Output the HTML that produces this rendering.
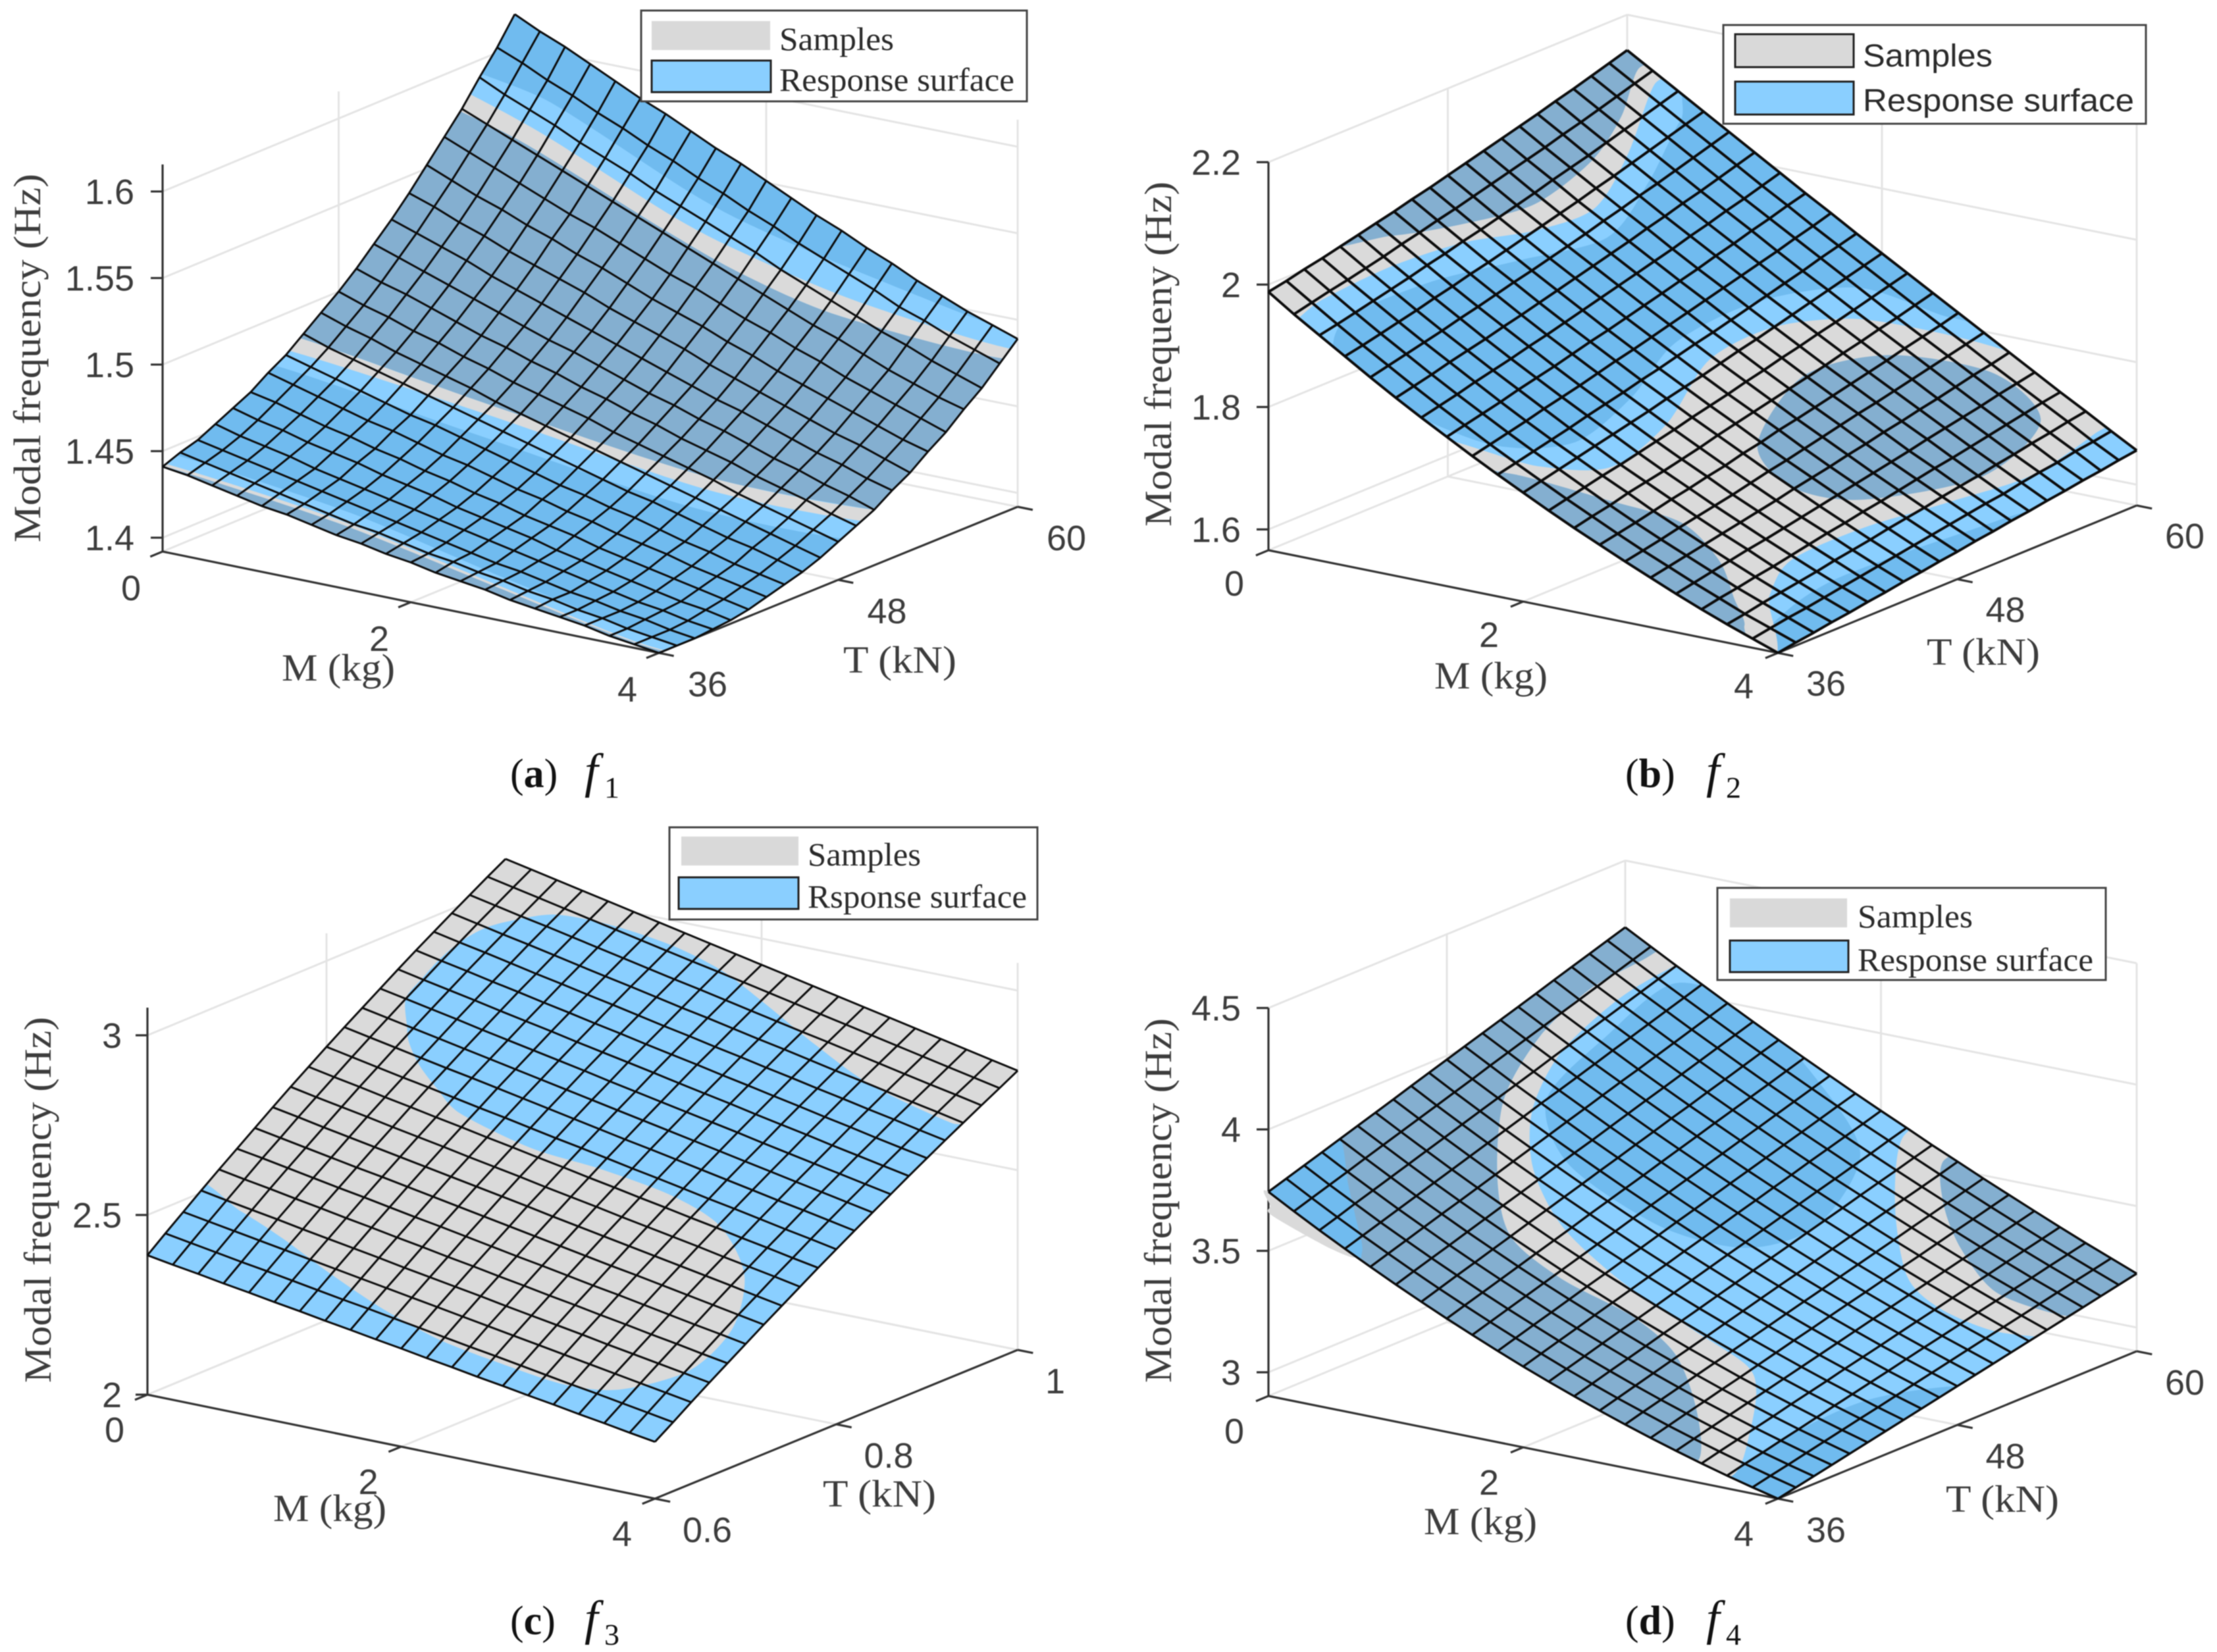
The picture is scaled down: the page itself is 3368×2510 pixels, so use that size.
<!DOCTYPE html>
<html lang="en">
<head>
<meta charset="utf-8">
<title>Modal frequency response surfaces</title>
<style>
html,body{margin:0;padding:0;background:#fff}
svg{display:block;filter:blur(.7px)}
.tick{font-family:"Liberation Sans",sans-serif;font-size:54px;fill:#3c3c3c}
.axis-title{font-family:"Liberation Serif",serif;font-size:58px;fill:#3c3c3c}
.legend-serif{font-family:"Liberation Serif",serif;font-size:50px;fill:#2a2a2a}
.legend-sans{font-family:"Liberation Sans",sans-serif;font-size:48px;fill:#2a2a2a}
.caption{font-family:"Liberation Serif",serif;font-size:62px;fill:#111}
.cap-f{font-size:74px;font-style:italic}
.cap-sub{font-size:46px}
</style>
</head>
<body>
<svg id="figure" width="3368" height="2510" viewBox="0 0 3368 2510" xmlns="http://www.w3.org/2000/svg">
<rect width="3368" height="2510" fill="#fff"/>

<g>
<g id="plot-a"></g>
<text class="axis-title" transform="translate(43,544) rotate(-90)" y="18" text-anchor="middle" textLength="560" lengthAdjust="spacingAndGlyphs">Modal frequency (Hz)</text>
<text class="axis-title" x="514" y="1034" text-anchor="middle" textLength="172" lengthAdjust="spacingAndGlyphs">M (kg)</text>
<text class="axis-title" x="1367" y="1022" text-anchor="middle" textLength="172" lengthAdjust="spacingAndGlyphs">T (kN)</text>
<g>
<rect x="974" y="16" width="586" height="138" fill="#fff" stroke="#444" stroke-width="3"/>
<rect x="990" y="32" width="180" height="44" fill="#d9d9d9"/>
<rect x="990" y="92" width="181" height="48" fill="#8acfff" stroke="#222" stroke-width="3"/>
<text class="legend-serif" x="1184" y="76" textLength="174" lengthAdjust="spacingAndGlyphs">Samples</text>
<text class="legend-serif" x="1184" y="138" textLength="357" lengthAdjust="spacingAndGlyphs">Response surface</text>
</g>
<text class="caption" x="775" y="1196">(<tspan font-weight="bold">a</tspan>)<tspan x="888" class="cap-f">f</tspan><tspan x="918" dy="16" class="cap-sub">1</tspan></text>
</g>

<g>
<g id="plot-b"></g>
<text class="axis-title" transform="translate(1761,538) rotate(-90)" y="18" text-anchor="middle" textLength="524" lengthAdjust="spacingAndGlyphs">Modal frequeny (Hz)</text>
<text class="axis-title" x="2265" y="1046" text-anchor="middle" textLength="172" lengthAdjust="spacingAndGlyphs">M (kg)</text>
<text class="axis-title" x="3013" y="1010" text-anchor="middle" textLength="172" lengthAdjust="spacingAndGlyphs">T (kN)</text>
<g>
<rect x="2618" y="38" width="642" height="150" fill="#fff" stroke="#444" stroke-width="3"/>
<rect x="2636" y="52" width="180" height="50" fill="#d9d9d9" stroke="#222" stroke-width="3"/>
<rect x="2636" y="124" width="180" height="50" fill="#8acfff" stroke="#222" stroke-width="3"/>
<text class="legend-sans" x="2830" y="101" textLength="197" lengthAdjust="spacingAndGlyphs">Samples</text>
<text class="legend-sans" x="2830" y="169" textLength="412" lengthAdjust="spacingAndGlyphs">Response surface</text>
</g>
<text class="caption" x="2469" y="1196">(<tspan font-weight="bold">b</tspan>)<tspan x="2592" class="cap-f">f</tspan><tspan x="2622" dy="16" class="cap-sub">2</tspan></text>
</g>

<g>
<g id="plot-c"></g>
<text class="axis-title" transform="translate(59,1823) rotate(-90)" y="18" text-anchor="middle" textLength="556" lengthAdjust="spacingAndGlyphs">Modal frequency (Hz)</text>
<text class="axis-title" x="501" y="2311" text-anchor="middle" textLength="172" lengthAdjust="spacingAndGlyphs">M (kg)</text>
<text class="axis-title" x="1336" y="2289" text-anchor="middle" textLength="172" lengthAdjust="spacingAndGlyphs">T (kN)</text>
<g>
<rect x="1017" y="1257" width="559" height="140" fill="#fff" stroke="#444" stroke-width="3"/>
<rect x="1035" y="1271" width="178" height="44" fill="#d9d9d9"/>
<rect x="1031" y="1333" width="182" height="48" fill="#8acfff" stroke="#222" stroke-width="3"/>
<text class="legend-serif" x="1227" y="1315" textLength="172" lengthAdjust="spacingAndGlyphs">Samples</text>
<text class="legend-serif" x="1227" y="1379" textLength="333" lengthAdjust="spacingAndGlyphs">Rsponse surface</text>
</g>
<text class="caption" x="775" y="2483">(<tspan font-weight="bold">c</tspan>)<tspan x="888" class="cap-f">f</tspan><tspan x="918" dy="16" class="cap-sub">3</tspan></text>
</g>

<g>
<g id="plot-d"></g>
<text class="axis-title" transform="translate(1761,1824) rotate(-90)" y="18" text-anchor="middle" textLength="554" lengthAdjust="spacingAndGlyphs">Modal frequency (Hz)</text>
<text class="axis-title" x="2249" y="2331" text-anchor="middle" textLength="172" lengthAdjust="spacingAndGlyphs">M (kg)</text>
<text class="axis-title" x="3042" y="2297" text-anchor="middle" textLength="172" lengthAdjust="spacingAndGlyphs">T (kN)</text>
<g>
<rect x="2609" y="1349" width="590" height="140" fill="#fff" stroke="#444" stroke-width="3"/>
<rect x="2628" y="1365" width="178" height="44" fill="#d9d9d9"/>
<rect x="2628" y="1429" width="180" height="48" fill="#8acfff" stroke="#222" stroke-width="3"/>
<text class="legend-serif" x="2822" y="1409" textLength="175" lengthAdjust="spacingAndGlyphs">Samples</text>
<text class="legend-serif" x="2822" y="1475" textLength="358" lengthAdjust="spacingAndGlyphs">Response surface</text>
</g>
<text class="caption" x="2469" y="2483">(<tspan font-weight="bold">d</tspan>)<tspan x="2592" class="cap-f">f</tspan><tspan x="2622" dy="16" class="cap-sub">4</tspan></text>
</g>
</svg>

<script>
/* Axis ticks and labels */
const massTicks=[0,2,4];
const massTickLabels=['0','2','4'];
const tensionTicksKN=[36,48,60];
const tensionTickLabelsKN=['36','48','60'];
const tensionTicksF3=[0.6,0.8,1];
const tensionTickLabelsF3=['0.6','0.8','1'];
const freqTicksF1=[1.4,1.45,1.5,1.55,1.6];
const freqTickLabelsF1=['1.4','1.45','1.5','1.55','1.6'];
const freqTicksF2=[1.6,1.8,2,2.2];
const freqTickLabelsF2=['1.6','1.8','2','2.2'];
const freqTicksF3=[2,2.5,3];
const freqTickLabelsF3=['2','2.5','3'];
const freqTicksF4=[3,3.5,4,4.5];
const freqTickLabelsF4=['3','3.5','4','4.5'];

/* Response-surface frequency (Hz): one row per T step (T min to T max), one column per M step (0 to 4 kg) */
const frequencyF1=[
[1.441,1.439,1.436,1.433,1.430,1.428,1.425,1.422,1.420,1.417,1.415,1.412,1.410,1.408,1.405,1.403,1.401,1.399,1.396,1.394,1.392],
[1.445,1.442,1.439,1.436,1.433,1.430,1.427,1.424,1.422,1.419,1.416,1.414,1.411,1.409,1.406,1.404,1.401,1.399,1.396,1.394,1.392],
[1.448,1.445,1.442,1.439,1.436,1.433,1.430,1.427,1.424,1.421,1.418,1.415,1.412,1.410,1.407,1.404,1.402,1.399,1.397,1.394,1.392],
[1.453,1.449,1.446,1.443,1.439,1.436,1.433,1.430,1.427,1.424,1.421,1.418,1.415,1.412,1.409,1.406,1.403,1.400,1.398,1.395,1.393],
[1.458,1.454,1.451,1.447,1.444,1.441,1.437,1.434,1.431,1.427,1.424,1.421,1.418,1.414,1.411,1.408,1.405,1.402,1.399,1.397,1.394],
[1.463,1.460,1.456,1.452,1.449,1.445,1.442,1.438,1.435,1.431,1.428,1.424,1.421,1.418,1.414,1.411,1.408,1.405,1.402,1.399,1.396],
[1.470,1.466,1.462,1.458,1.454,1.451,1.447,1.443,1.440,1.436,1.432,1.429,1.425,1.422,1.418,1.415,1.412,1.408,1.405,1.402,1.399],
[1.476,1.472,1.468,1.464,1.460,1.456,1.453,1.449,1.445,1.441,1.437,1.433,1.430,1.426,1.423,1.419,1.415,1.412,1.408,1.405,1.402],
[1.484,1.479,1.475,1.471,1.467,1.463,1.459,1.455,1.451,1.447,1.443,1.439,1.435,1.431,1.428,1.424,1.420,1.416,1.413,1.409,1.405],
[1.492,1.487,1.483,1.478,1.474,1.470,1.466,1.461,1.457,1.453,1.449,1.445,1.441,1.437,1.433,1.429,1.425,1.421,1.417,1.413,1.409],
[1.500,1.495,1.491,1.486,1.482,1.477,1.473,1.468,1.464,1.460,1.456,1.451,1.447,1.443,1.439,1.435,1.430,1.426,1.422,1.418,1.414],
[1.509,1.504,1.500,1.495,1.490,1.485,1.481,1.476,1.472,1.467,1.463,1.458,1.454,1.449,1.445,1.441,1.436,1.432,1.428,1.423,1.419],
[1.519,1.514,1.509,1.504,1.499,1.494,1.489,1.484,1.480,1.475,1.470,1.465,1.461,1.456,1.452,1.447,1.442,1.438,1.433,1.429,1.424],
[1.529,1.524,1.519,1.514,1.508,1.503,1.498,1.493,1.488,1.483,1.478,1.473,1.468,1.463,1.459,1.454,1.449,1.444,1.440,1.435,1.431],
[1.540,1.535,1.529,1.524,1.518,1.513,1.508,1.503,1.497,1.492,1.487,1.482,1.476,1.471,1.466,1.461,1.456,1.451,1.447,1.442,1.437],
[1.552,1.546,1.540,1.535,1.529,1.524,1.518,1.513,1.507,1.501,1.496,1.491,1.485,1.480,1.474,1.469,1.464,1.459,1.454,1.449,1.445],
[1.564,1.558,1.552,1.546,1.540,1.534,1.529,1.523,1.517,1.511,1.506,1.500,1.494,1.489,1.483,1.478,1.472,1.467,1.462,1.457,1.452],
[1.576,1.570,1.564,1.558,1.552,1.546,1.540,1.534,1.528,1.522,1.516,1.510,1.504,1.498,1.492,1.487,1.481,1.475,1.470,1.465,1.461],
[1.590,1.583,1.577,1.571,1.564,1.558,1.552,1.545,1.539,1.533,1.527,1.521,1.514,1.508,1.502,1.496,1.490,1.485,1.479,1.474,1.469],
[1.603,1.597,1.590,1.584,1.577,1.571,1.564,1.558,1.551,1.545,1.538,1.532,1.525,1.519,1.513,1.507,1.500,1.495,1.489,1.484,1.479],
[1.618,1.611,1.605,1.598,1.591,1.584,1.578,1.571,1.564,1.558,1.551,1.544,1.537,1.531,1.524,1.518,1.511,1.505,1.499,1.494,1.489]
];
const frequencyF2=[
[1.988,1.960,1.934,1.908,1.882,1.857,1.833,1.810,1.787,1.765,1.744,1.723,1.703,1.684,1.665,1.647,1.629,1.612,1.596,1.581,1.566],
[1.994,1.967,1.940,1.914,1.889,1.864,1.840,1.817,1.794,1.772,1.751,1.730,1.710,1.690,1.671,1.653,1.635,1.618,1.601,1.586,1.571],
[2.001,1.974,1.947,1.921,1.896,1.871,1.847,1.824,1.801,1.779,1.758,1.737,1.716,1.696,1.677,1.659,1.641,1.623,1.607,1.591,1.575],
[2.007,1.980,1.954,1.928,1.903,1.879,1.855,1.831,1.808,1.786,1.765,1.744,1.724,1.703,1.684,1.665,1.647,1.629,1.612,1.595,1.580],
[2.014,1.987,1.961,1.935,1.910,1.886,1.862,1.839,1.816,1.793,1.772,1.750,1.730,1.710,1.690,1.671,1.653,1.634,1.617,1.600,1.584],
[2.021,1.994,1.968,1.943,1.918,1.893,1.869,1.846,1.823,1.801,1.779,1.757,1.736,1.716,1.696,1.677,1.658,1.640,1.622,1.605,1.589],
[2.028,2.002,1.976,1.950,1.925,1.901,1.877,1.853,1.830,1.808,1.786,1.764,1.743,1.723,1.702,1.683,1.664,1.646,1.628,1.610,1.593],
[2.035,2.009,1.983,1.958,1.933,1.908,1.884,1.861,1.838,1.815,1.793,1.771,1.750,1.729,1.709,1.689,1.670,1.652,1.633,1.615,1.598],
[2.043,2.017,1.991,1.965,1.941,1.916,1.892,1.869,1.846,1.823,1.801,1.779,1.758,1.737,1.716,1.696,1.676,1.657,1.638,1.620,1.602],
[2.050,2.024,1.998,1.973,1.948,1.924,1.900,1.876,1.853,1.830,1.808,1.786,1.765,1.743,1.722,1.702,1.682,1.663,1.644,1.625,1.607],
[2.058,2.032,2.006,1.981,1.956,1.932,1.908,1.884,1.861,1.838,1.815,1.793,1.772,1.751,1.729,1.708,1.688,1.668,1.649,1.630,1.611],
[2.066,2.040,2.014,1.989,1.964,1.940,1.916,1.892,1.869,1.846,1.823,1.801,1.779,1.757,1.736,1.715,1.694,1.674,1.654,1.635,1.616],
[2.074,2.048,2.022,1.997,1.972,1.948,1.924,1.900,1.877,1.853,1.831,1.808,1.786,1.764,1.743,1.721,1.700,1.680,1.660,1.640,1.620],
[2.082,2.056,2.031,2.005,1.981,1.956,1.932,1.908,1.885,1.861,1.838,1.816,1.793,1.771,1.750,1.728,1.706,1.686,1.665,1.645,1.625],
[2.090,2.064,2.039,2.014,1.989,1.965,1.940,1.916,1.893,1.869,1.846,1.823,1.800,1.778,1.756,1.734,1.713,1.691,1.670,1.649,1.629],
[2.098,2.073,2.047,2.022,1.998,1.973,1.949,1.925,1.901,1.877,1.854,1.831,1.808,1.785,1.763,1.741,1.719,1.697,1.676,1.655,1.634],
[2.107,2.081,2.056,2.031,2.006,1.982,1.957,1.933,1.909,1.885,1.862,1.838,1.815,1.792,1.770,1.747,1.725,1.703,1.681,1.660,1.638],
[2.115,2.090,2.065,2.040,2.015,1.990,1.966,1.942,1.917,1.893,1.870,1.846,1.823,1.800,1.777,1.754,1.731,1.709,1.687,1.664,1.643],
[2.124,2.099,2.074,2.049,2.024,1.999,1.974,1.950,1.926,1.902,1.878,1.854,1.830,1.807,1.784,1.761,1.738,1.715,1.692,1.670,1.647],
[2.133,2.108,2.083,2.058,2.033,2.008,1.983,1.959,1.934,1.910,1.886,1.862,1.838,1.814,1.791,1.767,1.744,1.721,1.698,1.674,1.652],
[2.142,2.117,2.092,2.067,2.042,2.017,1.992,1.967,1.943,1.918,1.894,1.870,1.846,1.822,1.798,1.774,1.750,1.726,1.703,1.679,1.656]
];
const frequencyF3=[
[2.388,2.376,2.365,2.353,2.342,2.330,2.319,2.307,2.296,2.284,2.273,2.261,2.250,2.238,2.227,2.215,2.204,2.192,2.181,2.169,2.158],
[2.428,2.416,2.404,2.392,2.381,2.369,2.357,2.345,2.334,2.322,2.310,2.298,2.286,2.275,2.263,2.251,2.239,2.228,2.216,2.204,2.192],
[2.467,2.455,2.443,2.431,2.419,2.407,2.395,2.383,2.371,2.359,2.347,2.335,2.323,2.311,2.299,2.287,2.275,2.263,2.251,2.239,2.227],
[2.506,2.493,2.481,2.469,2.456,2.444,2.432,2.420,2.407,2.395,2.383,2.371,2.358,2.346,2.334,2.322,2.309,2.297,2.285,2.273,2.261],
[2.544,2.531,2.519,2.506,2.494,2.481,2.469,2.456,2.444,2.431,2.419,2.406,2.394,2.381,2.369,2.356,2.344,2.331,2.319,2.306,2.294],
[2.581,2.569,2.556,2.543,2.530,2.518,2.505,2.492,2.480,2.467,2.454,2.441,2.429,2.416,2.403,2.391,2.378,2.365,2.352,2.340,2.327],
[2.618,2.605,2.592,2.579,2.566,2.554,2.541,2.528,2.515,2.502,2.489,2.476,2.463,2.450,2.437,2.425,2.412,2.399,2.386,2.373,2.360],
[2.655,2.642,2.628,2.615,2.602,2.589,2.576,2.563,2.550,2.537,2.524,2.510,2.497,2.484,2.471,2.458,2.445,2.432,2.419,2.405,2.392],
[2.691,2.677,2.664,2.651,2.637,2.624,2.611,2.597,2.584,2.571,2.557,2.544,2.531,2.517,2.504,2.491,2.478,2.464,2.451,2.438,2.424],
[2.726,2.712,2.699,2.685,2.672,2.658,2.645,2.631,2.618,2.604,2.591,2.577,2.564,2.550,2.537,2.523,2.510,2.496,2.483,2.469,2.456],
[2.761,2.747,2.733,2.719,2.706,2.692,2.678,2.665,2.651,2.637,2.624,2.610,2.596,2.583,2.569,2.555,2.542,2.528,2.514,2.501,2.487],
[2.795,2.781,2.767,2.753,2.739,2.726,2.712,2.698,2.684,2.670,2.656,2.642,2.629,2.615,2.601,2.587,2.573,2.559,2.546,2.532,2.518],
[2.828,2.814,2.800,2.786,2.772,2.758,2.744,2.730,2.716,2.702,2.688,2.674,2.660,2.646,2.632,2.618,2.604,2.590,2.576,2.562,2.548],
[2.861,2.847,2.833,2.819,2.804,2.790,2.776,2.762,2.748,2.733,2.719,2.705,2.691,2.677,2.663,2.648,2.634,2.620,2.606,2.592,2.578],
[2.894,2.879,2.865,2.851,2.836,2.822,2.808,2.793,2.779,2.765,2.751,2.736,2.722,2.708,2.693,2.679,2.665,2.650,2.636,2.622,2.608],
[2.926,2.911,2.897,2.882,2.868,2.853,2.839,2.824,2.810,2.795,2.781,2.767,2.752,2.738,2.723,2.709,2.694,2.680,2.665,2.651,2.637],
[2.957,2.942,2.928,2.913,2.898,2.884,2.869,2.855,2.840,2.825,2.811,2.796,2.782,2.767,2.753,2.738,2.724,2.709,2.695,2.680,2.666],
[2.988,2.973,2.958,2.944,2.929,2.914,2.899,2.885,2.870,2.855,2.841,2.826,2.811,2.797,2.782,2.767,2.753,2.738,2.723,2.709,2.694],
[3.018,3.003,2.988,2.974,2.959,2.944,2.929,2.914,2.899,2.885,2.870,2.855,2.840,2.825,2.811,2.796,2.781,2.766,2.751,2.737,2.722],
[3.048,3.033,3.018,3.003,2.988,2.973,2.958,2.943,2.928,2.914,2.899,2.884,2.869,2.854,2.839,2.824,2.809,2.794,2.779,2.764,2.749],
[3.077,3.062,3.047,3.032,3.017,3.002,2.987,2.972,2.957,2.942,2.927,2.912,2.897,2.882,2.867,2.852,2.837,2.822,2.807,2.792,2.777]
];
const frequencyF4=[
[3.743,3.684,3.627,3.572,3.519,3.467,3.417,3.369,3.323,3.278,3.235,3.194,3.155,3.117,3.081,3.047,3.015,2.984,2.955,2.928,2.902],
[3.767,3.708,3.651,3.596,3.543,3.491,3.441,3.393,3.346,3.301,3.258,3.216,3.176,3.138,3.102,3.067,3.034,3.003,2.973,2.945,2.918],
[3.791,3.732,3.676,3.620,3.567,3.515,3.465,3.416,3.369,3.324,3.280,3.238,3.198,3.159,3.122,3.087,3.053,3.021,2.990,2.961,2.934],
[3.815,3.756,3.700,3.644,3.591,3.538,3.488,3.439,3.392,3.346,3.302,3.260,3.219,3.180,3.142,3.106,3.072,3.039,3.008,2.978,2.950],
[3.839,3.781,3.724,3.668,3.615,3.562,3.512,3.462,3.415,3.369,3.325,3.282,3.240,3.201,3.163,3.126,3.091,3.057,3.025,2.995,2.966],
[3.863,3.805,3.748,3.692,3.638,3.586,3.535,3.486,3.438,3.392,3.347,3.303,3.262,3.221,3.183,3.145,3.110,3.076,3.043,3.012,2.982],
[3.887,3.829,3.772,3.716,3.662,3.610,3.559,3.509,3.461,3.414,3.369,3.325,3.283,3.242,3.203,3.165,3.129,3.094,3.061,3.029,2.998],
[3.911,3.853,3.796,3.740,3.686,3.633,3.582,3.532,3.484,3.437,3.391,3.347,3.304,3.263,3.223,3.185,3.148,3.112,3.078,3.045,3.014],
[3.936,3.877,3.820,3.764,3.710,3.657,3.606,3.556,3.507,3.459,3.413,3.369,3.326,3.284,3.243,3.205,3.167,3.131,3.096,3.062,3.030],
[3.960,3.901,3.844,3.788,3.734,3.681,3.629,3.579,3.530,3.482,3.436,3.391,3.347,3.305,3.264,3.224,3.186,3.149,3.113,3.079,3.046],
[3.984,3.925,3.868,3.812,3.758,3.705,3.653,3.602,3.553,3.505,3.458,3.413,3.369,3.326,3.284,3.244,3.205,3.167,3.131,3.096,3.062],
[4.008,3.950,3.892,3.837,3.782,3.728,3.676,3.625,3.576,3.527,3.480,3.434,3.390,3.346,3.304,3.264,3.224,3.186,3.149,3.113,3.078],
[4.032,3.974,3.916,3.860,3.806,3.752,3.700,3.649,3.599,3.550,3.503,3.456,3.411,3.367,3.325,3.283,3.243,3.204,3.166,3.130,3.094],
[4.056,3.998,3.941,3.884,3.830,3.776,3.723,3.672,3.622,3.573,3.525,3.478,3.433,3.388,3.345,3.303,3.262,3.222,3.184,3.147,3.110],
[4.080,4.022,3.965,3.908,3.854,3.800,3.747,3.695,3.645,3.595,3.547,3.500,3.454,3.409,3.365,3.323,3.281,3.241,3.202,3.163,3.126],
[4.104,4.046,3.989,3.933,3.877,3.823,3.770,3.719,3.668,3.618,3.569,3.522,3.475,3.430,3.385,3.342,3.300,3.259,3.219,3.180,3.142],
[4.129,4.070,4.013,3.957,3.901,3.847,3.794,3.742,3.691,3.641,3.592,3.543,3.497,3.451,3.406,3.362,3.319,3.277,3.237,3.197,3.158],
[4.153,4.094,4.037,3.981,3.925,3.871,3.817,3.765,3.714,3.663,3.614,3.565,3.518,3.472,3.426,3.382,3.338,3.296,3.254,3.214,3.174],
[4.177,4.119,4.061,4.005,3.949,3.895,3.841,3.788,3.737,3.686,3.636,3.587,3.539,3.492,3.446,3.401,3.357,3.314,3.272,3.231,3.190],
[4.201,4.143,4.085,4.029,3.973,3.918,3.865,3.812,3.760,3.709,3.658,3.610,3.561,3.513,3.467,3.421,3.376,3.332,3.289,3.247,3.206],
[4.225,4.167,4.109,4.053,3.997,3.942,3.888,3.835,3.783,3.731,3.681,3.632,3.582,3.535,3.487,3.441,3.395,3.350,3.306,3.264,3.222]
];

/* Outlines of the visible sample/response overlap regions, as [M step, T step] on the 20-by-20 sampling grid */
const f1UpperTensionZone=[[-2,18.6],[2.5,18.5],[8,18.5],[10.8,18.7],[14.7,19.3],[20,20.4],[23,21],[23,23],[-2,23]];
const f1MiddleOverlap=[[-2,17.3],[2.4,17.1],[8,17.1],[11,17.2],[14.5,17.7],[20,19.2],[23,20],[23,12.5],[20,12],[14.7,10],[7.1,8.8],[0,7.8],[-2,7.5]];
const f1UpperSampleBand=[[-2,17.8],[2.5,17.6],[8,17.6],[10.8,17.8],[14.7,18.4],[20,19.6],[23,20.3],[23,20],[20,19.2],[14.5,17.7],[11,17.2],[8,17.1],[2.4,17.1],[-2,17.3]];
const f1MiddleSampleBand=[[-2,7.6],[0,7.8],[7.1,8.8],[14.7,10],[20,12],[23,12.8],[23,12],[20,11.3],[15,9.5],[7.4,8.4],[0,7.2],[-2,6.9]];
const f1LowerTensionZone=[[-2,6],[0,6.4],[7.4,7.4],[15,8.5],[20,10.2],[23,11],[23,.8],[20,.9],[13,1.2],[6.5,1.5],[0,.8],[-2,.6]];
const f1EdgeOverlap=[[-2,-.2],[0,.05],[6.5,.7],[13,.45],[19,.15],[23,.05],[23,-2],[-2,-2]];
const f1EdgeSampleBand=[[-2,.1],[0,.2],[6.5,.9],[13,.6],[19,.25],[23,.15],[23,.05],[19,.15],[13,.45],[6.5,.7],[0,.05],[-2,-.05]];

const f2UpperResponseCore=[[2,1.5],[2.5,5.5],[3.5,9],[4.5,12.5],[3.8,15.8],[2.8,19],[2.5,21],[13,21],[13,19.6],[10.5,18],[9,14.5],[8.6,10.5],[9.3,7],[9.5,3.5],[8,1],[5,-.5],[3,-.5]];
const f2LowerResponseCore=[[21,-1],[19.5,-1],[18.7,2.5],[18.6,5],[19,8],[19.5,11],[20,14],[21,14]];
const f2SampleCrescent=[[-1,-1],[1.2,-1],[1.1,1.4],[1.4,4.9],[2.05,8],[3,10.6],[3.5,13.2],[2.7,16.2],[1.4,19.5],[1.3,21],[-1,21]];
const f2CornerOverlap=[[-1,4.4],[-1,21],[.7,21],[.7,19.6],[1.6,17.4],[2.2,14.9],[2.3,11.6],[1.55,8.7],[.6,6]];
const f2SampleBlob=[[7,-1],[9.5,1.5],[10.9,3.6],[10.7,7],[9.7,10.8],[10,14],[11.2,16.6],[12.8,18.3],[14.5,19.7],[16,20.6],[18.5,20.6],[18.8,19.3],[18.95,15.6],[18.3,12],[17.5,8.3],[17.15,4.8],[17.9,2.5],[19.7,-1]];
const f2CentreOverlap=[[13,8.8],[11.9,12.9],[12.9,16.3],[15.3,18.7],[17.5,18.2],[18.1,14.1],[16.6,9.5],[14.9,8]];
const f2EdgeOverlap=[[9,-1],[9.2,.4],[11.9,2.2],[13.9,3.3],[15.8,2.7],[17.3,1.4],[18.4,.4],[18.5,-1]];

const f3ResponseRegion=[[-1,3.3],[1.7,2.8],[3.6,2.4],[6,1.75],[8.4,1.2],[10.8,.85],[13,.8],[15.8,.9],[17.6,1.5],[19.1,3.2],[19.2,5.4],[18.1,7.6],[16.1,9.1],[13.9,9.55],[11.15,9.5],[8.55,9.25],[5.6,9.5],[4.25,10.1],[3.15,10.7],[2.25,11.4],[1.75,12],[1,13],[.92,14],[.9,15],[1,16],[1.3,16.9],[1.8,17.6],[2.9,18.6],[4.7,19.1],[7,19.3],[9.1,19.1],[11.2,18.5],[13.7,17.7],[16.4,17],[19.7,16.8],[22,16.6],[22,-2],[-1,-2]];

const f4SamplePeek=[[0,0],[.5,-.6],[.83,-1],[2.8,-.5],[3.3,0]];
const f4ResponseCore=[[3,11.3],[2.5,15.3],[2.44,19.3],[4.5,20.5],[7.84,19.5],[10.8,17.7],[12,13.6],[11.2,10.8],[8.8,9.4],[5.2,9.4]];
const f4LowerResponseCore=[[18.5,-1],[18,3],[18.5,7],[20,10],[22,10],[22,-1]];
const f4LeftOverlap=[[-2,22],[1.1,22],[1.2,19.3],[.93,16.7],[1.2,13.5],[2.16,10.1],[4.13,6.93],[6,5],[8.24,4.64],[10.8,4.93],[12.87,4.4],[15,2.53],[16.8,.15],[16.8,-2],[-2,-2]];
const f4CornerResponse=[[-1,4.2],[.03,4],[1.34,2.55],[2.31,1.56],[3.43,.35],[3.6,-1],[-1,-1]];
const f4SampleBandS=[[1.1,22],[1.2,19.3],[.93,16.7],[1.2,13.5],[2.16,10.1],[4.13,6.93],[6,5],[8.24,4.64],[10.8,4.93],[12.87,4.4],[15,2.53],[16.8,.15],[16.8,-2],[18.1,-2],[18.1,.33],[17.06,2.6],[15.8,4.76],[14.75,5.7],[12.37,5.92],[9.43,6.13],[6.73,6.8],[4.56,8.3],[3,10.5],[2.03,13.5],[1.75,17.1],[1.95,19.8],[2,22]];
const f4RightOverlap=[[12.6,22],[12.7,19.6],[14,17.8],[15.65,16.4],[17.7,15.4],[19.7,16],[22,16.5],[22,22]];
const f4RightSampleBand=[[11.2,22],[11.2,19.5],[13,16.5],[15.35,13.8],[17,13.2],[18.8,13.5],[20,14.4],[22,15],[22,16.5],[19.7,16],[17.7,15.4],[15.65,16.4],[14,17.8],[12.7,19.6],[12.6,22]];
</script>

<script>
const SVG_NS='http://www.w3.org/2000/svg';
const TONES={light:'#8acfff',mid:'#70bbef',dark:'#84afd0',grey:'#dadada'};

const panelDefs=[
{key:'a',tag:'f1',base:'light',freq:frequencyF1,meshWidth:3,
 mTicks:massTicks,mLabels:massTickLabels,tTicks:tensionTicksKN,tLabels:tensionTickLabelsKN,zTicks:freqTicksF1,zLabels:freqTickLabelsF1,
 geom:{F00:[247,838],F10:[1001,992],F11:[1546,770],F01:[782,616],zMin:1.392,zMax:1.6156,k:2630,mOff:[-48,55],tOff:[44,47],zOff:43},
 layers:[[f1UpperTensionZone,'mid'],[f1MiddleOverlap,'dark'],[f1LowerTensionZone,'mid'],[f1EdgeOverlap,'dark'],[f1UpperSampleBand,'grey'],[f1MiddleSampleBand,'grey'],[f1EdgeSampleBand,'grey']],peek:null},
{key:'b',tag:'f2',base:'light',freq:frequencyF2,meshWidth:4,
 mTicks:massTicks,mLabels:massTickLabels,tTicks:tensionTicksKN,tLabels:tensionTickLabelsKN,zTicks:freqTicksF2,zLabels:freqTickLabelsF2,
 geom:{F00:[1927,836],F10:[2701,992],F11:[3246,768],F01:[2472,612],zMin:1.566,zMax:2.2,k:930,mOff:[-52,50],tOff:[43,46],zOff:42},
 layers:[[f2UpperResponseCore,'mid'],[f2LowerResponseCore,'mid'],[f2SampleCrescent,'grey'],[f2CornerOverlap,'dark'],[f2SampleBlob,'grey'],[f2CentreOverlap,'dark'],[f2EdgeOverlap,'dark']],peek:null},
{key:'c',tag:'f3',base:'grey',freq:frequencyF3,meshWidth:3,
 mTicks:massTicks,mLabels:massTickLabels,tTicks:tensionTicksF3,tLabels:tensionTickLabelsF3,zTicks:freqTicksF3,zLabels:freqTickLabelsF3,
 geom:{F00:[224,2119],F10:[995,2277],F11:[1546,2051],F01:[768,1893],zMin:2,zMax:3.077,k:546,mOff:[-50,53],tOff:[42,47],zOff:39},
 layers:[[f3ResponseRegion,'light']],peek:null},
{key:'d',tag:'f4',base:'light',freq:frequencyF4,meshWidth:3.4,
 mTicks:massTicks,mLabels:massTickLabels,tTicks:tensionTicksKN,tLabels:tensionTickLabelsKN,zTicks:freqTicksF4,zLabels:freqTickLabelsF4,
 geom:{F00:[1927,2121],F10:[2701,2277],F11:[3246,2053],F01:[2469,1897],zMin:2.9024,zMax:4.5,k:369,mOff:[-52,53],tOff:[43,47],zOff:42},
 layers:[[f4ResponseCore,'mid'],[f4LowerResponseCore,'mid'],[f4LeftOverlap,'dark'],[f4CornerResponse,'mid'],[f4SampleBandS,'grey'],[f4RightOverlap,'dark'],[f4RightSampleBand,'grey']],peek:f4SamplePeek}
];

function mk(parent,tag,attrs){
  const el=document.createElementNS(SVG_NS,tag);
  for(const k in attrs)el.setAttribute(k,attrs[k]);
  parent.appendChild(el);
  return el;
}
function clamp(v,a,b){return Math.max(a,Math.min(b,v));}

function drawPanel(p){
  const g=p.geom,root=document.getElementById('plot-'+p.key);
  const mMin=p.mTicks[0],mMax=p.mTicks[p.mTicks.length-1];
  const tMin=p.tTicks[0],tMax=p.tTicks[p.tTicks.length-1];
  const rows=p.freq.length,cols=p.freq[0].length;

  function project(M,T,z){
    const s=(M-mMin)/(mMax-mMin),t=(T-tMin)/(tMax-tMin);
    const x=g.F00[0]*(1-s)*(1-t)+g.F10[0]*s*(1-t)+g.F11[0]*s*t+g.F01[0]*(1-s)*t;
    const y=g.F00[1]*(1-s)*(1-t)+g.F10[1]*s*(1-t)+g.F11[1]*s*t+g.F01[1]*(1-s)*t;
    return [x,y-(z-g.zMin)*g.k];
  }
  const mAt=i=>mMin+(mMax-mMin)*i/(cols-1);
  const tAt=j=>tMin+(tMax-tMin)*j/(rows-1);
  function surfaceZ(i,j){
    const ci=clamp(i,0,cols-1),cj=clamp(j,0,rows-1);
    const i0=Math.min(Math.floor(ci),cols-2),j0=Math.min(Math.floor(cj),rows-2);
    const u=ci-i0,v=cj-j0,f=p.freq;
    return f[j0][i0]*(1-u)*(1-v)+f[j0][i0+1]*u*(1-v)+f[j0+1][i0+1]*u*v+f[j0+1][i0]*(1-u)*v;
  }
  const node=(i,j)=>project(mAt(i),tAt(j),surfaceZ(i,j));
  const fmt=q=>q[0].toFixed(1)+','+q[1].toFixed(1);
  function smoothClosed(pts){
    const n=pts.length;
    let d='M'+fmt(pts[0]);
    for(let a=0;a<n;a++){
      const p0=pts[(a-1+n)%n],p1=pts[a],p2=pts[(a+1)%n],p3=pts[(a+2)%n];
      const c1=[p1[0]+(p2[0]-p0[0])/7,p1[1]+(p2[1]-p0[1])/7];
      const c2=[p2[0]-(p3[0]-p1[0])/7,p2[1]-(p3[1]-p1[1])/7];
      d+='C'+fmt(c1)+' '+fmt(c2)+' '+fmt(p2);
    }
    return d+'Z';
  }

  /* walls and floor grid */
  const grid=mk(root,'g',{stroke:'#e4e4e4','stroke-width':3,fill:'none'});
  
  
  function gridLine(a,b){
    const l=mk(grid,'line',{x1:a[0],y1:a[1],x2:b[0],y2:b[1]});
    
    
  }
  p.zTicks.forEach(z=>{
    gridLine(project(mMin,tMin,z),project(mMin,tMax,z));
    gridLine(project(mMin,tMax,z),project(mMax,tMax,z));
  });
  p.tTicks.slice(1).forEach(T=>gridLine(project(mMin,T,g.zMin),project(mMin,T,g.zMax)));
  p.mTicks.slice(1).forEach(M=>gridLine(project(M,tMax,g.zMin),project(M,tMax,g.zMax)));
  p.mTicks.slice(1,-1).forEach(M=>gridLine(project(M,tMin,g.zMin),project(M,tMax,g.zMin)));
  p.tTicks.slice(1,-1).forEach(T=>gridLine(project(mMin,T,g.zMin),project(mMax,T,g.zMin)));
  gridLine(project(mMin,tMax,g.zMin),project(mMax,tMax,g.zMin));
  gridLine(project(mMin,tMin,g.zMin),project(mMin,tMax,g.zMin));

  /* axis lines, ticks, tick labels */
  const axes=mk(root,'g',{stroke:'#333','stroke-width':3.2,fill:'none'});
  
  
  function axisLine(a,b,name){
    const l=mk(axes,'line',{x1:a[0],y1:a[1],x2:b[0],y2:b[1]});
    
    
  }
  function tickLabel(x,y,txt,anchor,name){
    const t=mk(root,'text',{x:x,y:y,'text-anchor':anchor,class:'tick'});
    
    
    t.textContent=txt;
  }
  axisLine(project(mMin,tMin,g.zMin),project(mMin,tMin,g.zMax),'z-axis-line');
  axisLine(project(mMin,tMin,g.zMin),project(mMax,tMin,g.zMin),'m-axis-line');
  axisLine(project(mMax,tMin,g.zMin),project(mMax,tMax,g.zMin),'t-axis-line');
  p.zTicks.forEach((z,n)=>{
    const q=project(mMin,tMin,z);
    axisLine(q,[q[0]-18,q[1]],'z-tick');
    tickLabel(q[0]-g.zOff,q[1]+19,p.zLabels[n],'end','z-tick-label');
  });
  p.mTicks.forEach((M,n)=>{
    const q=project(M,tMin,g.zMin);
    axisLine(q,project(M,tMin-(tMax-tMin)*.035,g.zMin),'m-tick');
    tickLabel(q[0]+g.mOff[0],q[1]+g.mOff[1]+19,p.mLabels[n],'middle','m-tick-label');
  });
  p.tTicks.forEach((T,n)=>{
    const q=project(mMax,T,g.zMin);
    axisLine(q,project(mMax+(mMax-mMin)*.03,T,g.zMin),'t-tick');
    tickLabel(q[0]+g.tOff[0],q[1]+g.tOff[1]+19,p.tLabels[n],'start','t-tick-label');
  });

  /* surface */
  if(p.peek){
    const peek=mk(root,'path',{d:smoothClosed(p.peek.map(c=>node(c[0],c[1]))),fill:TONES.grey});
    
    
  }
  const outline=[];
  for(let i=0;i<cols;i++)outline.push(node(i,0));
  for(let j=1;j<rows;j++)outline.push(node(cols-1,j));
  for(let i=cols-2;i>=0;i--)outline.push(node(i,rows-1));
  for(let j=rows-2;j>0;j--)outline.push(node(0,j));
  const pointsAttr=outline.map(fmt).join(' ');
  const defs=mk(root,'defs',{});
  const clip=mk(defs,'clipPath',{id:'clip-'+p.key});
  mk(clip,'polygon',{points:pointsAttr});
  const surface=mk(root,'g',{'clip-path':'url(#clip-'+p.key+')'});
  
  
  const baseFill=mk(surface,'polygon',{points:pointsAttr,fill:TONES[p.base]});
  
  
  p.layers.forEach(layer=>{
    const region=mk(surface,'path',{d:smoothClosed(layer[0].map(c=>node(c[0],c[1]))),fill:TONES[layer[1]]});
    
    
  });

  /* mesh */
  const mesh=mk(root,'g',{stroke:'#0c0c0c','stroke-width':p.meshWidth,fill:'none','stroke-linejoin':'round'});
  
  
  for(let j=0;j<rows;j++){
    const pts=[];
    for(let i=0;i<cols;i++)pts.push(fmt(node(i,j)));
    const line=mk(mesh,'polyline',{points:pts.join(' ')});
    
    
  }
  for(let i=0;i<cols;i++){
    const pts=[];
    for(let j=0;j<rows;j++)pts.push(fmt(node(i,j)));
    const line=mk(mesh,'polyline',{points:pts.join(' ')});
    
    
  }
}
panelDefs.forEach(drawPanel);
</script>
</body>
</html>
